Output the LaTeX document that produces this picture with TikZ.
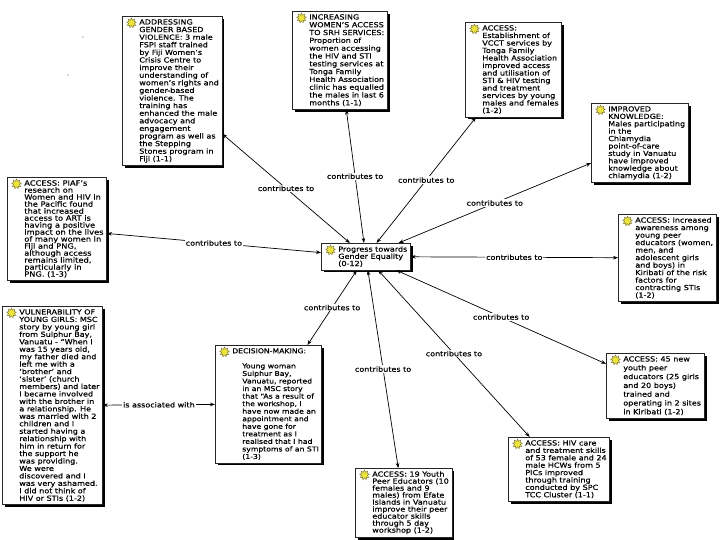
\documentclass[tikz,border=0pt]{standalone}
\usepackage{fontspec}
\newfontfamily\cmapfont[FakeStretch=1.15,FakeBold=0.5]{DejaVu Sans}
\usetikzlibrary{shapes.geometric,shadows,arrows.meta,calc}
\newcommand\rw[1]{\hbox{#1}}
\newcommand\cmbox[2]{\vbox{\baselineskip=#1pt\lineskiplimit=-100pt\lineskip=0pt\relax #2}}
\definecolor{iconfill}{RGB}{236,228,60}
\definecolor{iconline}{RGB}{120,112,50}
\begin{document}
\begin{tikzpicture}[x=1pt,y=-1pt,
  concept/.style={draw=black!85, line width=0.6pt, fill=white, anchor=north west,
    inner sep=3pt, font=\cmapfont\fontsize{7}{8}\selectfont,
    drop shadow={shadow xshift=2.5pt, shadow yshift=-2.5pt, fill=black, opacity=1}},
  icon/.style={star, star points=9, star point ratio=1.7, minimum size=10pt, inner sep=0pt,
    fill=iconfill, draw=iconline, line width=0.4pt},
  conn/.style={draw=black, line width=0.7pt,
    {Stealth[length=5pt,width=3.6pt]}-{Stealth[length=5pt,width=3.6pt]}},
  lbl/.style={fill=white, inner sep=1pt, font=\cmapfont\fontsize{7}{8}\selectfont}]
\fill[white] (0,0) rectangle (720,540);
\useasboundingbox (0,0) rectangle (720,540);
\fill[black!60] (83,37) circle (0.7);
\fill[black!60] (68,75) circle (0.7);

\node[concept] (A) at (122,16) {\hspace*{14pt}\cmbox{7.6}{%
\rw{ADDRESSING}\rw{GENDER BASED}\rw{VIOLENCE: 3 male}\rw{FSPI staff trained}%
\rw{by Fiji Women’s}\rw{Crisis Centre to}\rw{improve their}\rw{understanding of}%
\rw{women’s rights and}\rw{gender-based}\rw{violence. The}\rw{training has}%
\rw{enhanced the male}\rw{advocacy and}\rw{engagement}\rw{program as well as}%
\rw{the Stepping}\rw{Stones program in}\rw{Fiji (1-1)}}};

\node[concept] (B) at (292,11) {\hspace*{14pt}\cmbox{7.8}{%
\rw{INCREASING}\rw{WOMEN’S ACCESS}\rw{TO SRH SERVICES:}\rw{Proportion of}%
\rw{women accessing}\rw{the HIV and STI}\rw{testing services at}\rw{Tonga Family}%
\rw{Health Association}\rw{clinic has equalled}\rw{the males in last 6}\rw{months (1-1)}}};

\node[concept] (C) at (465,22) {\hspace*{14pt}\cmbox{7.5}{%
\rw{ACCESS:}\rw{Establishment of}\rw{VCCT services by}\rw{Tonga Family}%
\rw{Health Association}\rw{improved access}\rw{and utilisation of}\rw{STI \& HIV testing}%
\rw{and treatment}\rw{services by young}\rw{males and females}\rw{(1-2)}}};

\node[concept] (D) at (591,103) {\hspace*{14pt}\cmbox{7.4}{%
\rw{IMPROVED}\rw{KNOWLEDGE:}\rw{Males participating}\rw{in the}\rw{Chlamydia}%
\rw{point-of-care}\rw{study in Vanuatu}\rw{have improved}\rw{knowledge about}%
\rw{chlamydia (1-2)}}};

\node[concept, font=\cmapfont\fontsize{7.2}{8}\selectfont] (E) at (7,177) {\hspace*{14pt}\cmbox{7.0}{%
\rw{ACCESS: PIAF’s}\rw{research on}\rw{Women and HIV in}\rw{the Pacific found}%
\rw{that increased}\rw{access to ART is}\rw{having a positive}\rw{impact on the lives}%
\rw{of many women in}\rw{Fiji and PNG,}\rw{although access}\rw{remains limited,}%
\rw{particularly in}\rw{PNG. (1-3)}}};

\node[concept] (F) at (321,243) {\hspace*{14pt}\cmbox{7.2}{%
\rw{Progress towards}\rw{Gender Equality}\rw{(0-12)}}};

\node[concept] (G) at (618,214) {\hspace*{14pt}\cmbox{7.5}{%
\rw{ACCESS: Increased}\rw{awareness among}\rw{young peer}\rw{educators (women,}%
\rw{men, and}\rw{adolescent girls}\rw{and boys) in}\rw{Kiribati of the risk}%
\rw{factors for}\rw{contracting STIs}\rw{(1-2)}}};

\node[concept] (H) at (2,306) {\hspace*{14pt}\cmbox{7.45}{%
\rw{VULNERABILITY OF}\rw{YOUNG GIRLS: MSC}\rw{story by young girl}\rw{from Sulphur Bay,}%
\rw{Vanuatu - “When I}\rw{was 15 years old,}\rw{my father died and}\rw{left me with a}%
\rw{‘brother’ and}\rw{‘sister’ (church}\rw{members) and later}\rw{I became involved}%
\rw{with the brother in}\rw{a relationship. He}\rw{was married with 2}\rw{children and I}%
\rw{started having a}\rw{relationship with}\rw{him in return for}\rw{the support he}%
\rw{was providing.}\rw{We were}\rw{discovered and I}\rw{was very ashamed.}%
\rw{I did not think of}\rw{HIV or STIs (1-2)}}};

\node[concept, font=\cmapfont\fontsize{6.7}{8}\selectfont] (I) at (215,345) {\hspace*{14pt}\cmbox{7.55}{%
\rw{DECISION-MAKING:}\rw{}\rw{\hspace*{10pt}Young woman}\rw{\hspace*{10pt}Sulphur Bay,}%
\rw{\hspace*{10pt}Vanuatu, reported}\rw{\hspace*{10pt}in an MSC story}%
\rw{\hspace*{10pt}that “As a result of}\rw{\hspace*{10pt}the workshop, I}%
\rw{\hspace*{10pt}have now made an}\rw{\hspace*{10pt}appointment and}%
\rw{\hspace*{10pt}have gone for}\rw{\hspace*{10pt}treatment as I}%
\rw{\hspace*{10pt}realised that I had}\rw{\hspace*{10pt}symptoms of an STI}%
\rw{\hspace*{10pt}(1-3)}}};

\node[concept] (J) at (606,353) {\hspace*{14pt}\cmbox{8.8}{%
\rw{ACCESS: 45 new}\rw{youth peer}\rw{educators (25 girls}\rw{and 20 boys)}%
\rw{trained and}\rw{operating in 2 sites}\rw{in Kiribati (1-2)}}};

\node[concept] (K) at (508,437) {\hspace*{14pt}\cmbox{7.4}{%
\rw{ACCESS: HIV care}\rw{and treatment skills}\rw{of 53 female and 24}%
\rw{male HCWs from 5}\rw{PICs improved}\rw{through training}\rw{conducted by SPC}%
\rw{TCC Cluster (1-1)}}};

\node[concept] (L) at (355,468) {\hspace*{14pt}\cmbox{7.0}{%
\rw{ACCESS: 19 Youth}\rw{Peer Educators (10}\rw{females and 9}\rw{males) from Efate}%
\rw{Islands in Vanuatu}\rw{improve their peer}\rw{educator skills}\rw{through 5 day}%
\rw{workshop (1-2)}}};

\foreach \n in {A,B,C,D,E,F,G,H,I,J,K,L}
  \node[icon] (i\n) at ($(\n.north west)+(9.5,7)$) {};

\draw[conn] (A) -- node[lbl] (lA) {contributes to} (F);
\draw[conn] (B) -- node[lbl] (lB) {contributes to} (F);
\draw[conn] (C) -- node[lbl] (lC) {contributes to} (F);
\draw[conn] (D) -- node[lbl] (lD) {contributes to} (F);
\draw[conn] (E) -- node[lbl] (lE) {contributes to} (F);
\draw[conn] (G) -- node[lbl] (lG) {contributes to} (F);
\draw[conn] (I) -- node[lbl] (lI) {contributes to} (F);
\draw[conn] (J) -- node[lbl] (lJ) {contributes to} (F);
\draw[conn] (K) -- node[lbl] (lK) {contributes to} (F);
\draw[conn] (L) -- node[lbl] (lL) {contributes to} (F);
\draw[conn] (H) -- node[lbl] (lH) {is associated with} (I);
\end{tikzpicture}
\end{document}
